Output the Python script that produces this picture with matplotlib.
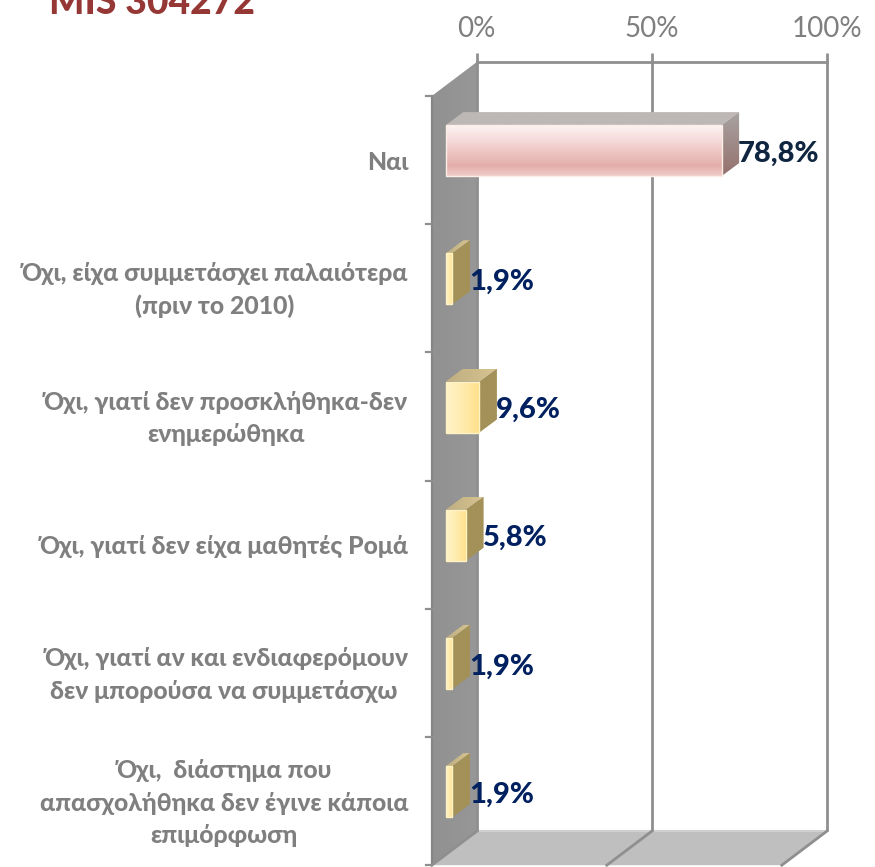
import numpy as np
import matplotlib
matplotlib.use("Agg")
import matplotlib.pyplot as plt
from matplotlib.colors import LinearSegmentedColormap
from matplotlib.patches import Polygon, Rectangle

plt.rcParams['font.family'] = ['Lato', 'Open Sans', 'DejaVu Sans']

title = "MIS 304272"
categories = [
    "Ναι",
    "Όχι, είχα συμμετάσχει παλαιότερα\n(πριν το 2010)",
    "Όχι, γιατί δεν προσκλήθηκα-δεν\nενημερώθηκα",
    "Όχι, γιατί δεν είχα μαθητές Ρομά",
    "Όχι, γιατί αν και ενδιαφερόμουν\nδεν μπορούσα να συμμετάσχω ",
    "Όχι,  διάστημα που\nαπασχολήθηκα δεν έγινε κάποια\nεπιμόρφωση",
]
values = [78.8, 1.9, 9.6, 5.8, 1.9, 1.9]
value_labels = ["78,8%", "1,9%", "9,6%", "5,8%", "1,9%", "1,9%"]
x_ticks = [0, 50, 100]
x_tick_labels = ["0%", "50%", "100%"]

W, H = 875, 867
# 3.5 px per percent, one category = 128.2 px
px_x = 3.5
px_y = 128.2
x0_px = 431.8
y0_px = 96.0
dx = 45 / px_x    # depth of the box in percent units
dy = 34 / px_y    # depth of the box in category units
n = len(categories)
bar_h = 51 / px_y
bar_dx = 17.5 / px_x
bar_dy = 13 / px_y
bar_off = 14 / px_x
bar_shift = -9.5 / px_y

fig = plt.figure(figsize=(W / 100, H / 100), dpi=100)
ax = fig.add_axes([0, 0, 1, 1])
ax.set_xlim(-x0_px / px_x, (W - x0_px) / px_x)
ax.set_ylim((H - y0_px) / px_y, -y0_px / px_y)
ax.axis("off")

grid = "#8f8f8f"


def cm(name, *cols):
    return LinearSegmentedColormap.from_list(name, list(cols))


def shaded(pts, horizontal, cmap, z):
    # gradient clipped to a sheared face
    xs = [p[0] for p in pts]
    ys = [p[1] for p in pts]
    grad = np.linspace(0, 1, 100)
    grad = grad.reshape(1, -1) if horizontal else grad.reshape(-1, 1)
    im = ax.imshow(grad, extent=[min(xs), max(xs), max(ys), min(ys)], aspect="auto",
                   cmap=cmap, zorder=z)
    im.set_clip_path(Polygon(pts, transform=ax.transData))


# left wall and floor
shaded([(0, 0), (dx, -dy), (dx, n - dy), (0, n)], True, cm("wall", "#919191", "#979797"), 1)
ax.add_patch(Polygon([(0, n), (dx, n - dy), (100 + dx, n - dy), (100, n)],
                     fc="#bfbfbf", ec="none", zorder=1))
ax.plot([0, 0], [0, n], color="#858585", lw=1.6, zorder=2)
ax.plot([dx, 100 + dx], [-dy, -dy], color=grid, lw=2, zorder=2)
ax.plot([dx, 100 + dx], [n - dy, n - dy], color="#d0d0d0", lw=1.5, zorder=2)

for t, lab in zip(x_ticks, x_tick_labels):
    ax.plot([t + dx, t + dx], [-dy - 9 / px_y, n - dy], color=grid, lw=2, zorder=2,
            solid_capstyle="butt")
    ax.plot([t + dx, t], [n - dy, n], color=grid, lw=2, zorder=2)
    ax.text(t + dx, -dy - 20 / px_y, lab, ha="center", va="bottom", fontsize=20,
            color="#7f7f7f")

# category ticks
for i in range(n + 1):
    ax.plot([-5.5 / px_x, 0], [i, i], color=grid, lw=1.6, zorder=2)

pink = cm("pink", (0, "#fdf3f3"), (0.25, "#f7dede"), (0.8, "#e3aeaa"), (1, "#efcbc8"))
yellow = cm("yellow", (0, "#fff3c8"), (0.6, "#ffeaa8"), (1, "#ffdf88"))

for i, v in enumerate(values):
    yc = i + 0.5 + bar_shift
    top, bot = yc - bar_h / 2, yc + bar_h / 2
    x1, x2 = bar_off, bar_off + v
    top_face = [(x1, top), (x1 + bar_dx, top - bar_dy), (x2 + bar_dx, top - bar_dy), (x2, top)]
    side_face = [(x2, top), (x2 + bar_dx, top - bar_dy), (x2 + bar_dx, bot - bar_dy), (x2, bot)]
    if i == 0:
        shaded(top_face, True, cm("t0", "#bdb8b6", "#bdb8b6"), 3)
        shaded(side_face, False, cm("s0", "#a8a3a1", "#95716d"), 3)
        shaded([(x1, top), (x2, top), (x2, bot), (x1, bot)], False, pink, 4)
        edge = "#fbeee6"
    else:
        shaded(top_face, True, cm("t1", "#bfae80", "#d6c491"), 3)
        shaded(side_face, False, cm("s1", "#a39158", "#a39158"), 3)
        shaded([(x1, top), (x2, top), (x2, bot), (x1, bot)], True, yellow, 4)
        edge = "#fff2c4"
    ax.add_patch(Rectangle((x1, top), v, bar_h, fc="none", ec=edge, lw=1, zorder=4))
    col = "#10253f" if i == 0 else "#002060"
    ax.text(x2 + bar_dx - 0.3, yc + 3 / px_y, value_labels[i], ha="left", va="center",
            fontsize=21, fontweight=900, color=col, zorder=5)
    ax.text(-23.5 / px_x, i + 0.5 + 2 / px_y, categories[i], ha="right", va="center",
            fontsize=17.8, fontweight=900, color="#7f7f7f",
            multialignment="center", linespacing=1.5)

ax.set_xlim(-x0_px / px_x, (W - x0_px) / px_x)
ax.set_ylim((H - y0_px) / px_y, -y0_px / px_y)

fig.text(49 / W, 1 - 14 / H, title, ha="left", va="baseline", fontsize=26.8,
         fontweight=900, color="#953735")

fig.savefig("out.png", dpi=100)
